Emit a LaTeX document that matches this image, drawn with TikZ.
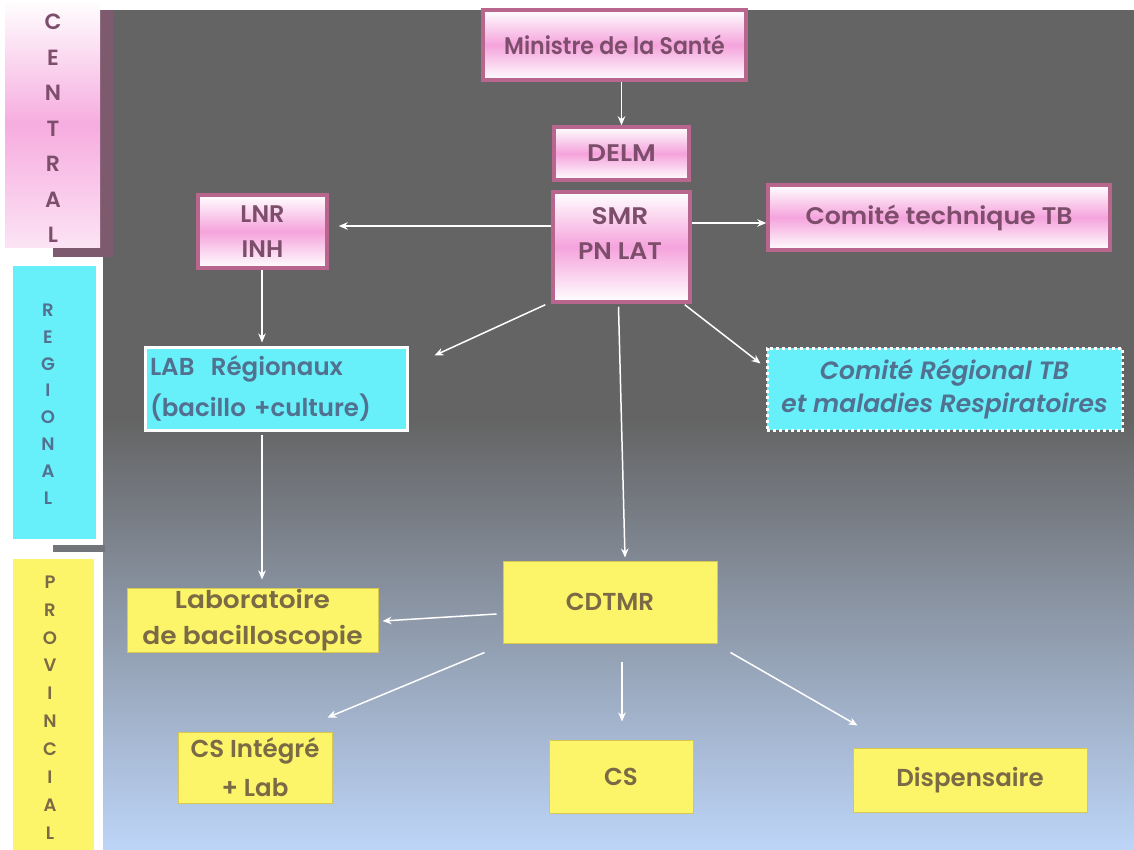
\documentclass[tikz,border=0pt]{standalone}
\usepackage{fontspec}
\setmainfont{Poppins}[BoldFont={Poppins SemiBold},BoldItalicFont={Poppins SemiBold Italic}]
\usetikzlibrary{arrows.meta,calc}
\definecolor{bggray}{HTML}{646464}
\definecolor{bgblue}{HTML}{BDD5F8}
\definecolor{pinkfill}{HTML}{F5A3DC}
\definecolor{pinkedge}{HTML}{B9668F}
\definecolor{pinkshadow}{HTML}{7E5A6E}
\definecolor{pinktext}{HTML}{7D4E6C}
\definecolor{cyanfill}{HTML}{68F0FA}
\definecolor{cyantext}{HTML}{52708F}
\definecolor{yelfill}{HTML}{FCF56A}
\definecolor{yeledge}{HTML}{D8C850}
\definecolor{yeltext}{HTML}{7A6A45}
\tikzset{
  pinkbox/.style={draw=pinkedge, line width=3.5pt, top color=white, bottom color=white, middle color=pinkfill,
     text=pinktext, font=\fontsize{24}{35}\selectfont\bfseries, align=center, inner sep=0pt},
  cyanbox/.style={draw=white, line width=3pt, fill=cyanfill, text=cyantext,
     font=\fontsize{24.5}{41}\selectfont\bfseries, inner sep=0pt},
  yelbox/.style={draw=yeledge, line width=1pt, fill=yelfill, text=yeltext,
     font=\fontsize{24.5}{36}\selectfont\bfseries, align=center, inner sep=0pt},
  arr/.style={draw=white, line width=1.5pt, -{Stealth[length=9pt,width=7.5pt]}},
  sidelbl/.style={inner sep=0pt}
}
\begin{document}
\begin{tikzpicture}[x=1pt,y=-1pt]
\useasboundingbox (0,0) rectangle (1134,850);
\fill[white] (0,0) rectangle (1134,850);
% background
\fill[bggray] (103,10) rectangle (1134,420);
\shade[top color=bggray, bottom color=bgblue] (103,420) rectangle (1134,850);
% side bands
\fill[pinkshadow] (53,10) rectangle (113,257);
\node[draw=none, minimum width=95pt, minimum height=248pt, inner sep=0pt,
  top color=white, bottom color=white!70!pinkfill, middle color=pinkfill!90] (central) at (52.5,124) {};
\fill[white] (0,248) rectangle (53,262);
\node[draw=white, line width=2pt, fill=cyanfill, minimum width=85pt, minimum height=275pt, inner sep=0pt] (regional) at (54.5,402.5) {};
\fill[bggray!85!bgblue] (53,545) rectangle (105,552);
\node[draw=white, line width=2pt, fill=yelfill, minimum width=83pt, minimum height=293pt, inner sep=0pt] (provincial) at (53.5,704.5) {};
\foreach \l [count=\i] in {C,E,N,T,R,A,L}
  \node[sidelbl, text=pinktext, font=\fontsize{22}{22}\selectfont\bfseries] (c\i) at (53,{22+(\i-1)*35.5}) {\l};
\foreach \l [count=\i] in {R,E,G,I,O,N,A,L}
  \node[sidelbl, text=cyantext, font=\fontsize{18}{18}\selectfont\bfseries] (r\i) at (48,{310+(\i-1)*26.9}) {\l};
\foreach \l [count=\i] in {P,R,O,V,I,N,C,I,A,L}
  \node[sidelbl, text=yeltext, font=\fontsize{18}{18}\selectfont\bfseries] (p\i) at (50,{582+(\i-1)*27.9}) {\l};
% nodes
\node[pinkbox, minimum width=263pt, minimum height=70pt] (min) at (614.5,45) {\scalebox{0.92}[1]{Ministre de la Santé}};
\node[pinkbox, minimum width=135pt, minimum height=53pt] (delm) at (621.5,153.5) {\scalebox{1.1}[1]{DELM}};
\node[pinkbox, minimum width=137pt, minimum height=110pt] (smr) at (621.5,247) {};
\node[text=pinktext, font=\fontsize{24}{35}\selectfont\bfseries, align=center, inner sep=0pt] (smrt) at (620,234) {\scalebox{1.1}[1]{SMR}\\\scalebox{1.05}[1]{PN LAT}};
\node[pinkbox, minimum width=129pt, minimum height=73pt] (lnr) at (262.5,231.5) {LNR\\INH};
\node[pinkbox, minimum width=342pt, minimum height=65pt] (ctb) at (939,217.5) {\scalebox{1.05}[1]{Comité technique TB}};
\node[cyanbox, minimum width=262pt, minimum height=83pt, align=left, text width=252pt] (lab) at (276,388.5) {LAB\ \ Régionaux\\(bacillo +culture)};
\node[cyanbox, dashed, dash pattern=on 3pt off 3pt, minimum width=355pt, minimum height=82pt, align=center,
  font=\fontsize{25}{33}\selectfont\bfseries\itshape] (crtb) at (944.5,389) {Comité Régional TB\\et maladies Respiratoires};
\node[yelbox, minimum width=214pt, minimum height=82pt] (cdtmr) at (610,602) {CDTMR};
\node[yelbox, minimum width=251pt, minimum height=64pt] (labo) at (252.5,620) {\scalebox{1.08}[1]{Laboratoire}\\\scalebox{1.08}[1]{de bacilloscopie}};
\node[yelbox, minimum width=154pt, minimum height=71pt, font=\fontsize{24.5}{39}\selectfont\bfseries] (csi) at (255,767.5) {CS Intégré\\+ Lab};
\node[yelbox, minimum width=144pt, minimum height=73pt] (cs) at (621,776.5) {CS};
\node[yelbox, minimum width=234pt, minimum height=64pt] (disp) at (970,780) {Dispensaire};
% connectors
\draw[arr] (delm.north |- min.south) -- (delm.north);
\draw[arr] ($(smr.west)+(0,-21)$) -- ($(lnr.east)+(10,-5.5)$);
\draw[arr] ($(smr.east)+(0,-24)$) -- ($(ctb.west)+(0,5.5)$);
\draw[arr] ($(smr.south west)+(-6,1)$) -- ($(lab.north east)+(26,10)$);
\draw[arr] ($(smr.south)+(-3,3)$) -- ($(cdtmr.north)+(15,-3)$);
\draw[arr] ($(smr.south east)+(-7,1)$) -- ($(crtb.north west)+(-5,17)$);
\draw[arr] ($(lnr.south)+(-0.5,0)$) -- ($(lnr.south |- lab.north)+(-0.5,-3)$);
\draw[arr] ($(lnr.south |- lab.south)+(-0.5,3)$) -- ($(lnr.south |- labo.north)+(-0.5,-8)$);
\draw[arr] ($(cdtmr.west)+(-6,12)$) -- ($(labo.east)+(4,1)$);
\draw[arr] ($(cdtmr.south west)+(-18,9)$) -- ($(csi.north east)+(-5,-14)$);
\draw[arr] ($(cdtmr.south)+(12,18)$) -- ($(cs.north)+(1,-18)$);
\draw[arr] ($(cdtmr.south east)+(13,9)$) -- ($(disp.north west)+(5,-22)$);
\end{tikzpicture}
\end{document}
